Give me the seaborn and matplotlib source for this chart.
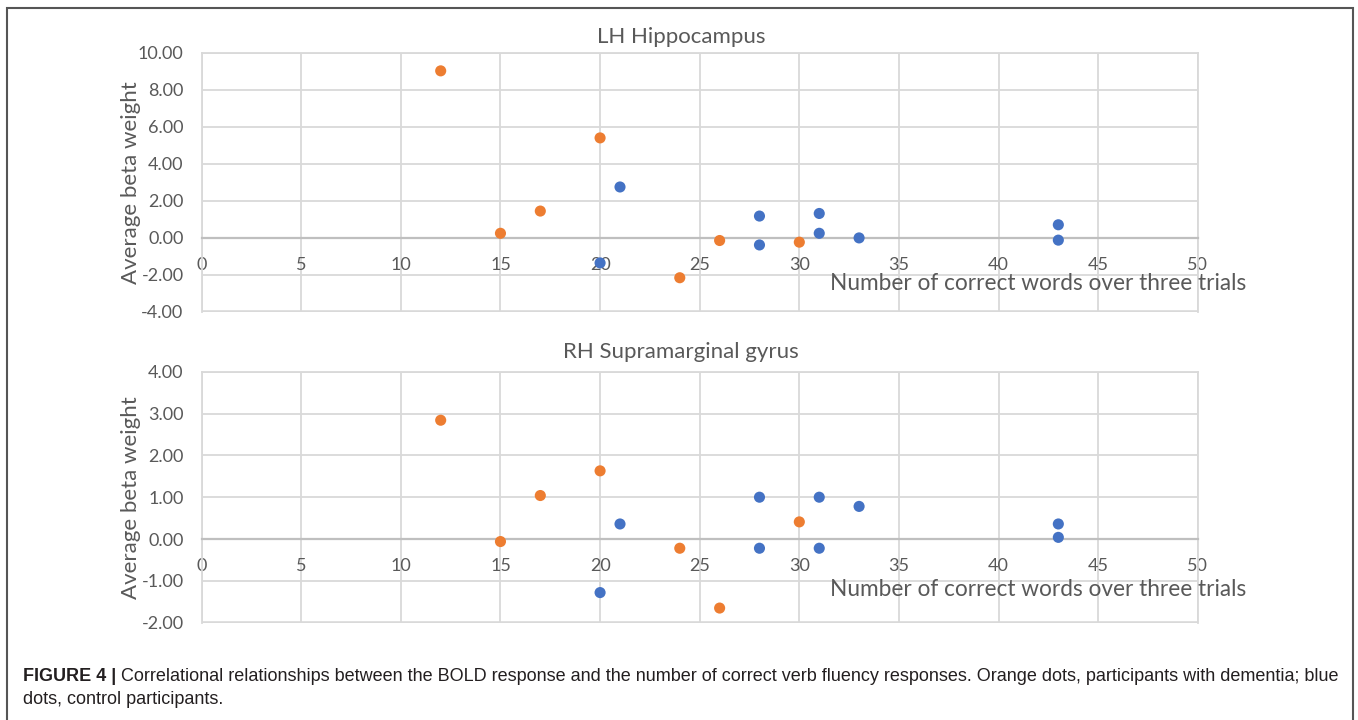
import numpy as np
import pandas as pd
import matplotlib
matplotlib.use("Agg")
import matplotlib.pyplot as plt
import seaborn as sns
from matplotlib.patches import Rectangle
from matplotlib.ticker import FormatStrFormatter, MultipleLocator

# ── data ─────────────────────────────────────────────────────────────────
words_dementia = [12, 15, 17, 20, 24, 26, 30]
words_control = [20, 21, 28, 28, 31, 31, 33, 43, 43]

lh_dementia = [9.02, 0.25, 1.45, 5.40, -2.15, -0.14, -0.23]
lh_control = [-1.35, 2.75, 1.18, -0.38, 1.32, 0.25, 0.00, 0.71, -0.12]

rh_dementia = [2.84, -0.06, 1.04, 1.63, -0.22, -1.65, 0.41]
rh_control = [-1.28, 0.36, 1.00, -0.22, 1.00, -0.22, 0.78, 0.36, 0.04]

panel_titles = ["LH Hippocampus", "RH Supramarginal gyrus"]
panel_ylims = [(-4, 10), (-2, 4)]
panel_ysteps = [2, 1]
x_label = "Number of correct words over three trials"
y_label = "Average beta weight"
caption_bold = "FIGURE 4 | "
caption_line1 = ("Correlational relationships between the BOLD response and the number of "
                 "correct verb fluency responses. Orange dots, participants with dementia; blue")
caption_line2 = "dots, control participants."

ORANGE = "#ED7D31"
BLUE = "#4472C4"
GRID = "#d9d9d9"
TXT = "#595959"


def make_frame(dementia, control):
    d = pd.DataFrame({"words": words_dementia, "beta": dementia, "group": "dementia"})
    c = pd.DataFrame({"words": words_control, "beta": control, "group": "control"})
    return pd.concat([d, c], ignore_index=True)


sns.set_theme(style="white")
plt.rcParams["font.family"] = ["Lato", "DejaVu Sans"]
plt.rcParams["axes.unicode_minus"] = False

fig = plt.figure(figsize=(13.58, 7.2), dpi=100)
W, H = 1358, 720

# axes boxes in pixels: left, right, top, bottom
boxes = [(201.6, 1197.8, 52.7, 312.0), (201.6, 1197.8, 371.7, 622.7)]
title_y = [36.7, 351.7]
data = [make_frame(lh_dementia, lh_control), make_frame(rh_dementia, rh_control)]

for i, (l, r, t, b) in enumerate(boxes):
    ax = fig.add_axes([l / W, 1 - b / H, (r - l) / W, (b - t) / H])
    df = data[i]
    sns.scatterplot(data=df, x="words", y="beta", hue="group",
                    palette={"dementia": ORANGE, "control": BLUE},
                    s=64, edgecolor="none", legend=False, zorder=3, ax=ax)
    ax.set_xlim(0, 50)
    ax.set_ylim(*panel_ylims[i])
    ax.xaxis.set_major_locator(MultipleLocator(5))
    ax.yaxis.set_major_locator(MultipleLocator(panel_ysteps[i]))
    ax.yaxis.set_major_formatter(FormatStrFormatter("%.2f"))
    ax.grid(True, color=GRID, lw=1.3, zorder=0)
    ax.set_axisbelow(True)

    for side in ["top", "left", "right"]:
        ax.spines[side].set_color(GRID)
        ax.spines[side].set_linewidth(1.3)
    ax.spines["bottom"].set_position(("data", 0))
    ax.spines["bottom"].set_color("#bfbfbf")
    ax.spines["bottom"].set_linewidth(1.6)
    ax.axhline(panel_ylims[i][0], color=GRID, lw=2.6, zorder=1)

    ax.tick_params(axis="both", length=0, labelsize=13, colors=TXT)
    ax.tick_params(axis="y", pad=13)
    ax.tick_params(axis="x", pad=14)
    ax.set_xlabel("")
    ax.set_ylabel(y_label, fontsize=16, color=TXT)
    ax.yaxis.set_label_coords(-0.061, 0.5)

    ax.annotate(x_label, xy=(1, 0), xycoords=("axes fraction", "data"),
                xytext=(48, -46 if i == 0 else -50), textcoords="offset pixels",
                ha="right", va="center", fontsize=16.3, color=TXT)
    fig.text(681 / W, 1 - title_y[i] / H, panel_titles[i], ha="center", va="center",
             fontsize=16, color=TXT)

# caption
cap_kw = dict(fontsize=13, color="#231f20", family=["Liberation Sans", "DejaVu Sans"],
              va="center", ha="left")
bold = fig.text(22.7 / W, 1 - 676.7 / H, caption_bold, fontweight="bold", **cap_kw)
fig.canvas.draw()
bb = bold.get_window_extent(fig.canvas.get_renderer())
fig.text(bb.x1 / W, 1 - 676.7 / H, caption_line1, **cap_kw)
fig.text(22.7 / W, 1 - 700 / H, caption_line2, **cap_kw)

# outer frame
fig.patches.append(Rectangle((7.3 / W, -0.01), (1353 - 7.3) / W, 1.01 - 8.3 / H,
                             transform=fig.transFigure, fill=False,
                             edgecolor="#555555", lw=1.5))

fig.savefig("out.png", dpi=100)
